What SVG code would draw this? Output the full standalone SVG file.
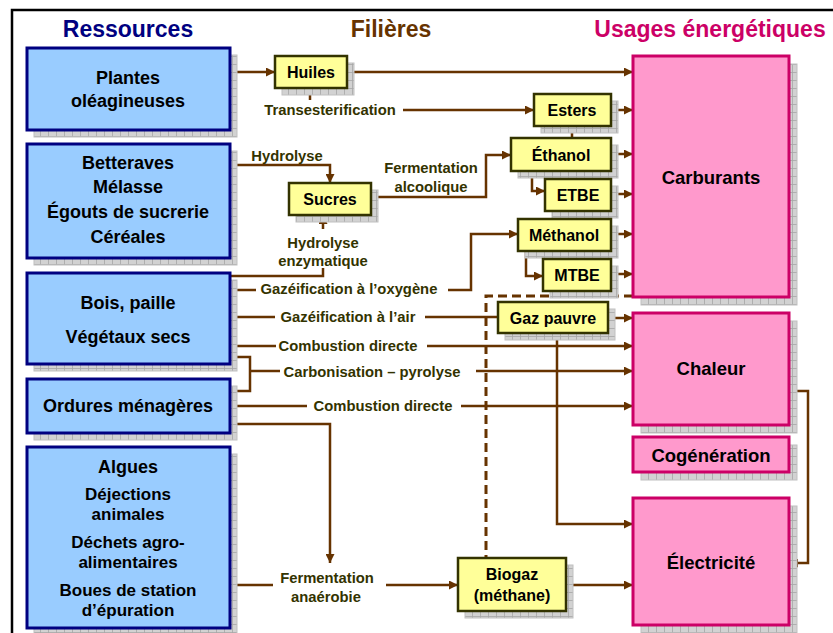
<svg xmlns="http://www.w3.org/2000/svg" width="833" height="633" viewBox="0 0 833 633">
<defs>
<pattern id="grid" width="8" height="8" patternUnits="userSpaceOnUse">
<rect width="8" height="8" fill="#d2d2d2"/>
<path d="M0,0.5 H8 M0.5,0 V8" stroke="#a6a6a6" stroke-width="0.8" fill="none"/>
</pattern>
<marker id="arr" markerUnits="userSpaceOnUse" markerWidth="10" markerHeight="9" refX="9" refY="4.5" orient="auto">
<path d="M0,0 L9,4.5 L0,9 z" fill="#663300"/>
</marker>
<style>
.shadow{fill:url(#grid);stroke:#c0c0c0;stroke-width:1}
.res{fill:#99ccff;stroke:#000080;stroke-width:3}
.fil{fill:#ffff99;stroke:#333300;stroke-width:2.5}
.use{fill:#ff99cc;stroke:#cc0066;stroke-width:3}
.t{font-family:"Liberation Sans",Arial,sans-serif;font-weight:bold;text-anchor:middle;fill:#000}
.rt{font-size:18px}
.rs{font-size:17px}
.ft{font-size:16px}
.ut{font-size:18.5px}
.lab{font-family:"Liberation Sans",Arial,sans-serif;font-weight:bold;font-size:14.8px;text-anchor:middle;fill:#333300}
.h{font-family:"Liberation Sans",Arial,sans-serif;font-weight:bold;font-size:23px;text-anchor:middle}
#connectors path{fill:none;stroke:#663300;stroke-width:2.5}
#connectors .a{marker-end:url(#arr)}
#connectors .d{stroke-dasharray:9 5;stroke-width:3}
</style>
</defs>
<rect width="833" height="633" fill="#fff"/>
<path d="M12,633 V10 H833" fill="none" stroke="#000" stroke-width="2.5"/>

<text class="h" x="128" y="37" fill="#000080">Ressources</text>
<text class="h" x="391" y="37" fill="#663300">Filières</text>
<text class="h" x="710" y="37" fill="#cc0066">Usages énergétiques</text>

<g id="connectors">
<path class="a" d="M230,72 H275"/>
<path class="a" d="M347,72 H633"/>
<path d="M310,88 V100"/>
<path class="a" d="M403,110 H534"/>
<path class="a" d="M611,110 H633"/>
<path d="M572,126 V138"/>
<path class="a" d="M611,154 H633"/>
<path class="a" d="M532,171 V191 H545"/>
<path class="a" d="M611,194 H633"/>
<path class="a" d="M611,234 H633"/>
<path class="a" d="M526,251 V276 H543"/>
<path class="a" d="M611,274 H633"/>
<path class="a" d="M230,165 H330 V183"/>
<path class="a" d="M371,197 H486 V155 H511"/>
<path d="M230,276 H323 V268"/>
<path class="a" d="M323,229 V215"/>
<path d="M230,290 H256"/>
<path class="a" d="M448,290 H471 V234 H518"/>
<path d="M230,317 H275"/>
<path d="M425,317 H498"/>
<path class="a" d="M608,318 H633"/>
<path class="a" d="M557,333 V524 H633"/>
<path class="d" d="M633,296 H486 V558"/>
<path d="M230,346 H276"/>
<path class="a" d="M427,346 H633"/>
<path d="M230,357 H250 V391 H230"/>
<path d="M250,371 H280"/>
<path class="a" d="M476,371 H633"/>
<path d="M230,406 H307"/>
<path class="a" d="M461,406 H633"/>
<path class="a" d="M230,424 H330 V563"/>
<path d="M230,585 H273"/>
<path class="a" d="M386,585 H458"/>
<path class="a" d="M566,585 H633"/>
<path class="a" d="M789,391 H808 V563 H789"/>
</g>

<g id="labels">
<text class="lab" x="330" y="115">Transesterification</text>
<text class="lab" x="287" y="161">Hydrolyse</text>
<text class="lab" x="431" y="173">Fermentation</text>
<text class="lab" x="431" y="192">alcoolique</text>
<text class="lab" x="323" y="248">Hydrolyse</text>
<text class="lab" x="323" y="266">enzymatique</text>
<text class="lab" x="349" y="294">Gazéification à l’oxygène</text>
<text class="lab" x="348" y="322">Gazéification à l’air</text>
<text class="lab" x="348" y="351">Combustion directe</text>
<text class="lab" x="372" y="377">Carbonisation – pyrolyse</text>
<text class="lab" x="383" y="411">Combustion directe</text>
<text class="lab" x="327" y="583">Fermentation</text>
<text class="lab" x="326" y="602">anaérobie</text>
</g>

<g id="plantes">
<rect class="shadow" x="34" y="55" width="203" height="82"/>
<rect class="res" x="27" y="48" width="203" height="82"/>
<text class="t rt" x="128" y="84">Plantes</text>
<text class="t rt" x="128" y="107">oléagineuses</text>
</g>
<g id="betteraves">
<rect class="shadow" x="34" y="151" width="203" height="114"/>
<rect class="res" x="27" y="144" width="203" height="114"/>
<text class="t rt" x="128" y="169">Betteraves</text>
<text class="t rt" x="128" y="193">Mélasse</text>
<text class="t rt" x="128" y="218">Égouts de sucrerie</text>
<text class="t rt" x="128" y="243">Céréales</text>
</g>
<g id="bois">
<rect class="shadow" x="34" y="280" width="203" height="91"/>
<rect class="res" x="27" y="273" width="203" height="91"/>
<text class="t rt" x="128" y="309">Bois, paille</text>
<text class="t rt" x="128" y="343">Végétaux secs</text>
</g>
<g id="ordures">
<rect class="shadow" x="34" y="386" width="203" height="54"/>
<rect class="res" x="27" y="379" width="203" height="54"/>
<text class="t rt" x="128" y="412">Ordures ménagères</text>
</g>
<g id="algues">
<rect class="shadow" x="34" y="454" width="203" height="181"/>
<rect class="res" x="27" y="447" width="203" height="181"/>
<text class="t rt" x="128" y="473">Algues</text>
<text class="t rs" x="128" y="500">Déjections</text>
<text class="t rs" x="128" y="520">animales</text>
<text class="t rs" x="128" y="548">Déchets agro-</text>
<text class="t rs" x="128" y="568">alimentaires</text>
<text class="t rs" x="128" y="596">Boues de station</text>
<text class="t rs" x="128" y="616">d’épuration</text>
</g>

<g id="huiles">
<rect class="shadow" x="282" y="63" width="72" height="32"/>
<rect class="fil" x="275" y="56" width="72" height="32"/>
<text class="t ft" x="311" y="78">Huiles</text>
</g>
<g id="esters">
<rect class="shadow" x="541" y="101" width="77" height="32"/>
<rect class="fil" x="534" y="94" width="77" height="32"/>
<text class="t ft" x="572" y="116">Esters</text>
</g>
<g id="ethanol">
<rect class="shadow" x="518" y="145" width="100" height="33"/>
<rect class="fil" x="511" y="138" width="100" height="33"/>
<text class="t ft" x="561" y="161">Éthanol</text>
</g>
<g id="etbe">
<rect class="shadow" x="552" y="186" width="66" height="32"/>
<rect class="fil" x="545" y="179" width="66" height="32"/>
<text class="t ft" x="578" y="201">ETBE</text>
</g>
<g id="methanol">
<rect class="shadow" x="525" y="226" width="93" height="32"/>
<rect class="fil" x="518" y="219" width="93" height="32"/>
<text class="t ft" x="564" y="241">Méthanol</text>
</g>
<g id="mtbe">
<rect class="shadow" x="550" y="266" width="68" height="32"/>
<rect class="fil" x="543" y="259" width="68" height="32"/>
<text class="t ft" x="577" y="281">MTBE</text>
</g>
<g id="sucres">
<rect class="shadow" x="296" y="190" width="82" height="32"/>
<rect class="fil" x="289" y="183" width="82" height="32"/>
<text class="t ft" x="330" y="205">Sucres</text>
</g>
<g id="gazpauvre">
<rect class="shadow" x="505" y="309" width="110" height="31"/>
<rect class="fil" x="498" y="302" width="110" height="31"/>
<text class="t ft" x="553" y="324">Gaz pauvre</text>
</g>
<g id="biogaz">
<rect class="shadow" x="465" y="565" width="108" height="53"/>
<rect class="fil" x="458" y="558" width="108" height="53"/>
<text class="t ft" x="512" y="580">Biogaz</text>
<text class="t ft" x="512" y="601">(méthane)</text>
</g>

<g id="carburants">
<rect class="shadow" x="641" y="64" width="156" height="241"/>
<rect class="use" x="633" y="56" width="156" height="241"/>
<text class="t ut" x="711" y="184">Carburants</text>
</g>
<g id="chaleur">
<rect class="shadow" x="641" y="321" width="156" height="112"/>
<rect class="use" x="633" y="313" width="156" height="112"/>
<text class="t ut" x="711" y="375">Chaleur</text>
</g>
<g id="cogeneration">
<rect class="shadow" x="641" y="445" width="156" height="35"/>
<rect class="use" x="633" y="437" width="156" height="35"/>
<text class="t ut" x="711" y="462">Cogénération</text>
</g>
<g id="electricite">
<rect class="shadow" x="641" y="506" width="156" height="127"/>
<rect class="use" x="633" y="498" width="156" height="127"/>
<text class="t ut" x="711" y="569">Électricité</text>
</g>
</svg>
